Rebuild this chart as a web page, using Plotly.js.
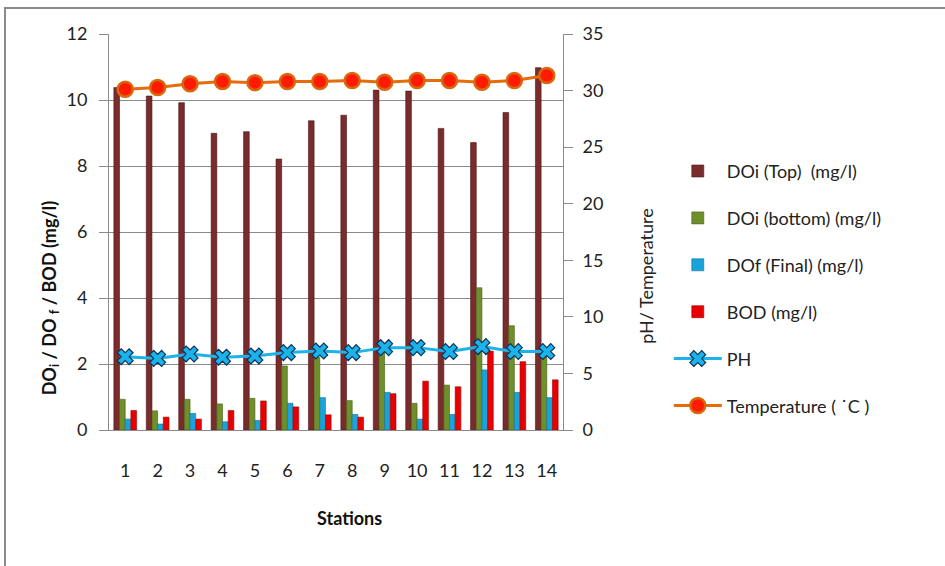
<!DOCTYPE html>
<html>
<head>
<meta charset="utf-8">
<script src="https://cdn.plot.ly/plotly-3.0.1.min.js"></script>
<style>
  html, body { margin: 0; padding: 0; background: #ffffff; }
  #wrap { position: relative; width: 945px; height: 566px; overflow: hidden; }
  #frame { position: absolute; left: 4px; top: 7px; width: 960px; height: 580px;
           border-left: 2px solid #8a8a8a; border-top: 2px solid #8a8a8a; }
  #chart { position: absolute; left: 0; top: 0; width: 945px; height: 566px; }
</style>
</head>
<body>
<div id="wrap">
  <div id="frame"></div>
  <div id="chart"></div>
</div>
<script>
const stations = ["1","2","3","4","5","6","7","8","9","10","11","12","13","14"];
const doiTop = [10.38, 10.12, 9.92, 8.99, 9.04, 8.21, 9.37, 9.54, 10.30, 10.27, 9.14, 8.71, 9.62, 10.98];
const doiBottom = [0.93, 0.58, 0.93, 0.79, 0.96, 1.94, 2.2, 0.89, 2.5, 0.81, 1.36, 4.31, 3.16, 2.4];
const dofFinal = [0.33, 0.18, 0.50, 0.25, 0.29, 0.81, 0.98, 0.47, 1.14, 0.33, 0.47, 1.82, 1.14, 0.98];
const bod = [0.59, 0.39, 0.33, 0.59, 0.88, 0.70, 0.46, 0.39, 1.10, 1.48, 1.31, 2.39, 2.07, 1.52];
const ph = [6.48, 6.33, 6.72, 6.43, 6.54, 6.84, 6.98, 6.84, 7.28, 7.28, 6.93, 7.37, 6.93, 6.93];
const temperature = [30.12, 30.27, 30.6, 30.8, 30.7, 30.8, 30.8, 30.89, 30.74, 30.89, 30.89, 30.74, 30.89, 31.33];

const FONT = "Lato, 'Open Sans', sans-serif";

function barTrace(name, y, color, edge, group) {
  return {
    type: 'bar', x: stations, y: y, name: name, yaxis: 'y', legendgroup: group,
    marker: { color: color, line: { color: edge, width: 0.6 } },
    hoverinfo: 'skip'
  };
}

const traces = [
  barTrace('DOi (Top)  (mg/l)', doiTop, '#7a2b2b', '#4d1616', 'g1'),
  barTrace('DOi (bottom) (mg/l)', doiBottom, '#6f8f2a', '#46601a', 'g2'),
  barTrace('DOf (Final) (mg/l)', dofFinal, '#1aa3da', '#0e6f98', 'g3'),
  barTrace('BOD (mg/l)', bod, '#e80000', '#a00000', 'g4'),
  {
    type: 'scatter', mode: 'lines+markers', x: stations, y: ph, name: 'PH', yaxis: 'y2',
    legendgroup: 'g5',
    line: { color: '#1cb2ea', width: 3 },
    marker: { symbol: 'x', size: 14, color: '#1cb2ea', line: { color: '#0a3358', width: 1.2 } }
  },
  {
    type: 'scatter', mode: 'lines+markers', x: stations, y: temperature, name: 'Temperature ( ˙C )', yaxis: 'y2',
    legendgroup: 'g6',
    line: { color: '#e46c0a', width: 3 },
    marker: { symbol: 'circle', size: 15, color: '#ff1a00', line: { color: '#d9680c', width: 2.5 } }
  }
];

const layout = {
  width: 945, height: 566,
  margin: { l: 109, r: 382, t: 34, b: 136, autoexpand: false },
  paper_bgcolor: 'rgba(0,0,0,0)',
  plot_bgcolor: 'rgba(0,0,0,0)',
  font: { family: FONT, size: 18, color: '#222222' },
  barmode: 'group', bargap: 0.3, bargroupgap: 0,
  showlegend: true,
  legend: {
    x: 1.233, y: 0.70, xanchor: 'left', yanchor: 'top',
    font: { family: FONT, size: 18, color: '#222222' },
    tracegroupgap: 20.5, itemwidth: 48, bgcolor: 'rgba(0,0,0,0)'
  },
  xaxis: {
    type: 'category', range: [-0.5, 13.5], autorange: false,
    showgrid: false, showline: true, linecolor: '#8a8a8a', linewidth: 1,
    ticks: '', tickfont: { family: FONT, size: 18, color: '#222222' }, ticklabelstandoff: 24,
    mirror: false
  },
  yaxis: {
    range: [0, 12], dtick: 2, showgrid: true, gridcolor: '#8c8c8c', gridwidth: 1,
    showline: true, linecolor: '#8a8a8a', linewidth: 1, ticks: 'outside', ticklen: 9, tickcolor: '#8a8a8a',
    ticklabelstandoff: 8, zeroline: false,
    tickfont: { family: FONT, size: 18, color: '#222222' }
  },
  yaxis2: {
    overlaying: 'y', side: 'right', range: [0, 35], dtick: 5, showgrid: false, zeroline: false,
    showline: true, linecolor: '#8a8a8a', linewidth: 1, ticks: 'outside', ticklen: 9, tickcolor: '#8a8a8a',
    ticklabelstandoff: 6,
    tickfont: { family: FONT, size: 18, color: '#222222' }
  },
  annotations: [
    { text: 'Stations', xref: 'paper', yref: 'paper', x: 0.53, y: -0.222, xanchor: 'center', yanchor: 'middle',
      showarrow: false, font: { family: FONT, size: 18, color: '#111111', weight: 'bold' } },
    { text: 'DO<sub>i</sub> / DO <sub>f</sub> / BOD (mg/l)', xref: 'paper', yref: 'paper',
      x: -0.130, y: 0.335, xanchor: 'center', yanchor: 'middle', textangle: -90,
      showarrow: false, font: { family: FONT, size: 18, color: '#111111', weight: 'bold' } },
    { text: 'pH/ Temperature', xref: 'paper', yref: 'paper',
      x: 1.181, y: 0.39, xanchor: 'center', yanchor: 'middle', textangle: -90,
      showarrow: false, font: { family: FONT, size: 18, color: '#222222' } }
  ]
};

Plotly.newPlot('chart', traces, layout, { displayModeBar: false, staticPlot: true });
</script>
</body>
</html>
